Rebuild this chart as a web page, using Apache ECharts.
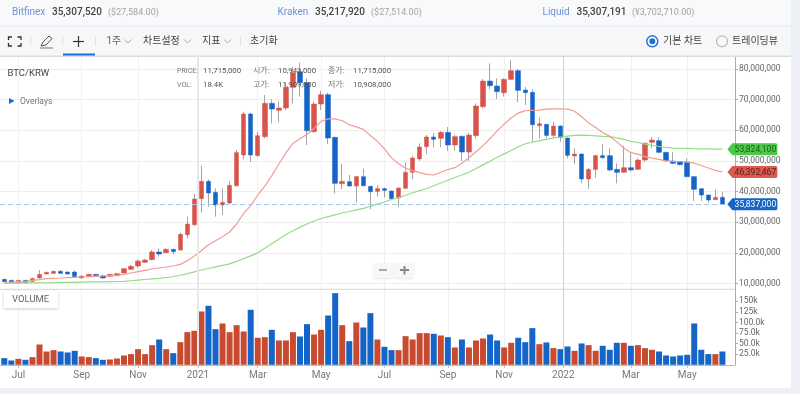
<!DOCTYPE html>
<html><head><meta charset="utf-8">
<style>html,body{margin:0;padding:0;background:#fff}#c{width:800px;height:394px}</style>
<script src="https://cdn.jsdelivr.net/npm/echarts@6/dist/echarts.min.js"></script>
</head><body><div id="c"></div>
<script>
// weekly candles, prices in millions of KRW
const opens=[11.36,11.03,10.27,11.03,10.71,11.79,13.10,13.32,13.97,13.75,13.75,11.79,12.34,12.99,12.45,12.34,12.56,13.43,14.62,15.71,16.91,17.78,20.28,20.06,21.15,20.93,25.93,29.20,37.68,43.33,39.74,35.61,36.26,41.92,51.92,65.30,51.70,57.91,68.78,66.50,67.26,74.00,79.11,75.52,59.54,68.57,71.61,57.69,42.57,43.22,41.81,44.86,41.70,40.07,40.94,40.18,37.90,41.05,46.27,50.62,54.65,57.80,57.36,59.32,55.19,58.02,52.90,58.24,67.69,76.06,74.43,72.26,76.61,79.44,73.13,72.37,61.49,61.93,58.34,61.38,57.47,51.60,52.25,44.10,47.25,51.71,51.71,47.25,46.27,47.79,47.25,50.30,56.06,56.60,52.80,49.97,49.75,49.53,44.86,40.94,38.88,37.35,38.11];
const closes=[10.60,10.38,11.03,10.38,11.58,12.99,13.64,13.97,13.32,13.10,12.23,12.45,12.99,12.56,11.79,12.99,13.21,14.84,15.60,17.34,17.67,20.28,19.62,21.15,20.39,26.04,29.41,37.57,43.33,39.53,35.61,36.48,42.03,52.69,65.30,51.92,58.23,68.78,66.93,67.26,74.00,78.78,75.52,59.86,68.57,71.61,57.47,42.68,43.33,41.81,44.86,41.92,39.96,40.94,40.40,37.68,41.16,46.27,50.95,54.54,57.80,57.04,59.32,55.19,57.91,52.90,58.45,67.91,76.06,74.54,72.59,76.61,79.44,73.02,72.26,61.82,62.14,58.34,61.38,57.69,51.82,52.25,44.10,47.25,51.71,51.06,47.03,46.27,47.79,47.03,50.30,55.73,56.82,52.80,50.08,49.21,48.77,44.86,40.72,38.88,37.25,38.11,35.83];
const lows=[10.38,10.16,10.10,10.20,10.50,11.69,12.90,13.10,13.10,12.95,12.10,11.60,12.20,12.40,11.60,12.20,12.40,13.30,14.40,15.06,16.70,17.56,18.75,19.90,19.52,20.71,24.74,28.76,33.11,35.07,31.80,32.35,35.94,41.59,50.51,49.75,51.40,57.36,62.26,62.58,66.61,68.78,70.95,55.19,59.21,66.61,55.52,39.42,40.72,41.59,36.48,41.70,34.20,38.33,38.11,37.25,35.07,41.00,44.09,49.97,52.25,54.43,54.43,53.23,53.34,49.97,49.97,57.36,67.15,73.35,70.19,70.96,76.40,69.11,68.24,56.06,57.36,57.36,57.36,56.27,50.84,48.99,42.68,40.83,44.53,50.73,46.49,42.68,46.16,46.49,47.03,49.75,54.10,52.47,49.75,48.88,48.55,44.64,36.92,36.92,36.37,37.25,35.61];
const highs=[11.58,11.25,11.20,11.20,12.00,14.40,13.86,14.20,14.40,13.95,14.30,12.60,13.20,13.10,12.90,13.10,13.40,15.00,16.04,17.88,18.10,20.93,21.47,21.47,21.26,26.59,31.80,39.20,48.45,43.98,41.05,41.05,43.44,53.56,66.06,65.70,59.54,71.50,70.09,69.33,75.53,80.74,82.05,76.94,69.33,72.91,72.26,57.90,49.00,45.40,45.00,47.47,41.90,42.14,41.27,40.30,41.30,49.53,51.71,55.73,58.45,58.99,59.75,61.06,58.45,58.30,59.21,68.78,76.72,81.83,76.94,76.94,82.92,79.98,74.22,73.35,64.21,62.04,62.80,61.60,57.60,54.10,52.40,47.60,52.00,55.40,54.10,49.20,54.86,52.47,50.84,56.06,57.90,57.69,53.00,52.80,50.00,50.84,45.00,41.10,39.00,40.72,39.96];
// volume in thousands
const volumes=[15.7,10.2,14.1,11.8,18.1,47.9,31.4,34.6,31.4,29.1,33,19.7,18.1,15.7,11.8,12.6,14.9,22,25.2,36.9,25.2,46.4,59.7,36.9,27.5,53.4,77,80.2,125.8,139.1,84.1,97.5,77,93.5,78.6,129.7,63.7,65.2,82.5,57.4,57.4,77,66.8,95.9,71.5,82.5,116.3,169,93.5,55.8,99.8,88,121.8,59.7,42.4,34.6,34.6,67.6,59.7,74.7,74.7,73.1,69.2,65.2,40.9,59.7,40.9,57.4,62.1,71.5,57.4,40.9,51.9,63.7,53.4,86.5,48.7,52.7,39.3,36.9,43.2,33,50.3,46.4,33,44.8,35.4,51.9,51.9,44.8,46.4,39.3,35.4,31.4,22,19.7,22,23.6,97.5,35.4,25.2,25.2,31.4];
// moving averages
const maRed=[10.38,10.49,10.6,10.71,11.03,11.25,11.58,11.69,11.79,11.9,12.01,12.12,12.23,12.34,12.45,12.56,12.66,12.99,13.43,13.86,14.3,14.73,15.06,15.38,15.71,16.25,17.45,18.97,20.71,22.67,23.97,25.28,26.8,29.41,32.89,35.39,38.8,41.8,45.2,49,52.6,55.7,57.2,58.7,60.6,62.9,63.7,63.7,63.1,61.8,61.1,60.3,58.3,56.4,53.9,51,49.1,47.6,46.9,46.2,45.6,45.4,46.3,47.2,47.8,49.2,51,53,55,57.3,59.8,62,64,65.6,66.4,66.5,66.6,66.9,67,67,66.9,66.2,64.4,62.4,60.9,59.3,58,56.2,54.2,52.7,52.2,51.4,50.9,50.5,50,49.8,49.8,49.7,49.3,48.5,47.7,46.9,46.39];
const maGreen=[10.05,10.1,10.1,10.15,10.2,10.2,10.25,10.3,10.35,10.4,10.4,10.45,10.5,10.55,10.55,10.6,10.65,10.7,10.9,11.1,11.3,11.5,11.7,11.95,12.2,12.7,13.2,13.8,14.4,14.9,15.4,15.9,16.4,17.2,18.1,19,20,21.5,23,24.5,26,27.2,28.4,29.4,30.4,31.2,31.8,32.4,33,33.5,34,34.5,35.2,35.9,36.6,37.4,38,38.8,39.6,40.3,41,41.9,42.8,43.7,44.6,45.4,46.3,47.5,48.7,49.9,51.2,52.3,53.4,54.6,55.6,56.1,56.6,57,57.5,57.8,58.1,58.3,58.4,58.3,58.2,58,57.9,57.5,57,56.4,56,55.5,55.1,54.7,54.4,54.2,54.1,54.1,54,53.95,53.9,53.85,53.82];
// axes: month ticks by week position
const monthTicks=[2,11,19,27.5,36,45,54,63,71,79.4,89,97];
const monthLabels=['Jul','Sep','Nov','2021','Mar','May','Jul','Sep','Nov','2022','Mar','May'];
const yearTicks=[27.5,79.4];
const priceTicks=[10,20,30,40,50,60,70,80];
const volTicks=[25,50,75,100,125,150];
const volLabels=['25.0k','50.0k','75.0k','100.0k','125k','150k'];
const lastPrice=35.837, lastGreen=53.8241, lastRed=46.392467;

const RED='#d9534a',BLUE='#1565c8',BARRED='#c84b31';
const FONT="Roboto,'Noto Sans CJK KR',sans-serif";
const fmtPrice=v=>Math.round(v*1e6).toLocaleString('en-US');
const idx=opens.map((_,i)=>i);
const body=idx.map(i=>[i,opens[i],closes[i],Math.min(opens[i],closes[i]),Math.max(opens[i],closes[i])]);
const wick=idx.map(i=>[i,opens[i],closes[i],lows[i],highs[i]]);
const volData=idx.map(i=>({value:[i,volumes[i]],itemStyle:{color:closes[i]>=opens[i]?BARRED:BLUE}}));
const last=idx.length-1;

function T(x,y,text,o={}){return {type:'text',x,y,silent:true,z:o.z||5,style:{text,fill:o.c||'#555',font:(o.w||'normal')+' '+(o.s||9)+'px '+FONT,textVerticalAlign:'middle',textBaseline:'middle',opacity:o.o==null?1:o.o}};}
function R(x,y,w,h,c,o={}){return {type:'rect',silent:true,z:o.z||1,shape:{x,y,width:w,height:h,r:o.r||0},style:{fill:c,shadowBlur:o.sb||0,shadowColor:o.sc||'transparent',shadowOffsetY:o.sy||0}};}
function L(pts,c,w=1,z=6){return {type:'polyline',silent:true,z,shape:{points:pts},style:{stroke:c,lineWidth:w,fill:null}};}
function chev(x){return L([[x,39.5],[x+3.5,43],[x+7,39.5]],'#aaa',1);}
const gr=[
 R(0,0,800,25,'#f8f9fb'),R(0,25,800,2,'#eff1f4'),R(0,27,800,29,'#f6f7f9'),R(0,55.5,791,1.5,'#dcdcdc',{z:2}),
 R(791,0,9,394,'#eceff3',{z:3}),R(0,388,800,6,'#eceff3',{z:3}),
 T(12,12.5,'Bitfinex',{c:'#6f93d2',s:10}),T(52,12.5,'35,307,520',{c:'#444',s:10,w:'500'}),T(108,12.5,'($27,584.00)',{c:'#a3a3a3',s:9}),
 T(277.5,12.5,'Kraken',{c:'#6f93d2',s:10}),T(315,12.5,'35,217,920',{c:'#444',s:10,w:'500'}),T(371,12.5,'($27,514.00)',{c:'#a3a3a3',s:9}),
 T(542.5,12.5,'Liquid',{c:'#6f93d2',s:10}),T(576.5,12.5,'35,307,191',{c:'#444',s:10,w:'500'}),T(632,12.5,'(¥3,702,710.00)',{c:'#a3a3a3',s:9}),
 // toolbar icons
 L([[8.5,40],[8.5,37],[12,37]],'#333',1.3),L([[17.5,37],[21,37],[21,40]],'#333',1.3),L([[21,43],[21,46],[17.5,46]],'#333',1.3),L([[12,46],[8.5,46],[8.5,43]],'#333',1.3),
 L([[31,36],[31,46]],'#e2e2e2',1),L([[41,46],[43,42],[49,36],[52,38.5],[46,45],[41,46]],'#555',1),L([[40,48],[53,48]],'#777',1),
 L([[63,36],[63,46]],'#e2e2e2',1),L([[73,41.5],[84,41.5]],'#333',1.2),L([[78.5,36],[78.5,47]],'#333',1.2),R(63,53.5,32,2,'#1a6fd8',{z:3}),
 L([[95.5,36],[95.5,46]],'#e2e2e2',1),
 T(106.5,41,'1주',{c:'#666',s:10}),chev(124.5),T(143,41,'차트설정',{c:'#444',s:10}),chev(184),T(202,41,'지표',{c:'#444',s:10}),chev(224),L([[240.5,36],[240.5,46]],'#e2e2e2',1),T(250,41,'초기화',{c:'#444',s:10}),
 {type:'circle',silent:true,z:5,shape:{cx:652.3,cy:41.3,r:5.5},style:{fill:'#fff',stroke:'#1a6fd8',lineWidth:1.4}},
 {type:'circle',silent:true,z:6,shape:{cx:652.3,cy:41.3,r:3},style:{fill:'#1a6fd8'}},
 T(663,41,'기본 차트',{c:'#444',s:10}),
 {type:'circle',silent:true,z:5,shape:{cx:722,cy:41.3,r:5.5},style:{fill:'#f6f7f9',stroke:'#bbb',lineWidth:1.2}},
 T(732,41,'트레이딩뷰',{c:'#444',s:10}),
 // pane captions
 T(7.5,73.5,'BTC/KRW',{c:'#444',s:9.5}),
 {type:'polygon',silent:true,z:5,shape:{points:[[9,98],[14.5,101],[9,104]]},style:{fill:'#1a6fd8'}},
 T(20,101.5,'Overlays',{c:'#777',s:8.5}),
 // read-out over the chart
 T(177,71,'PRICE:',{c:'#777',s:7,z:20}),T(203,71,'11,715,000',{c:'#555',s:7.8,z:20}),T(253,71,'시가:',{c:'#777',s:8,z:20}),T(278,71,'10,943,000',{c:'#555',s:7.8,z:20}),T(328,71,'종가:',{c:'#777',s:8,z:20}),T(353,71,'11,715,000',{c:'#555',s:7.8,z:20}),
 T(177,85,'VOL:',{c:'#777',s:7,z:20}),T(203,85,'18.4K',{c:'#555',s:7.8,z:20}),T(253,85,'고가:',{c:'#777',s:8,z:20}),T(278,85,'11,909,000',{c:'#555',s:7.8,z:20}),T(328,85,'저가:',{c:'#777',s:8,z:20}),T(353,85,'10,908,000',{c:'#555',s:7.8,z:20}),
 // zoom buttons
 R(373,263,21,15,'#f7f7f7',{z:21,r:2,sb:2,sc:'rgba(0,0,0,.1)',sy:1}),R(395,263,19,15,'#f7f7f7',{z:21,r:2,sb:2,sc:'rgba(0,0,0,.1)',sy:1}),
 L([[379,270],[387,270]],'#aaa',2,22),L([[400,270],[409,270]],'#888',2,22),L([[404.5,266],[404.5,274.5]],'#888',2,22),
 // volume caption
 R(4,291,54,17,'#fff',{z:21,sb:3,sc:'rgba(0,0,0,.2)',sy:1}),T(12,299.5,'VOLUME',{c:'#666',s:9.5,z:22}),
 // pane separator
 R(0,288.8,735,1.2,'#dedede',{z:2})
];
const axisText={color:'#666',fontSize:8.5,fontFamily:FONT,padding:[2,0,0,0]};
function xA(gi,show){return {type:'value',gridIndex:gi,min:-0.61,max:103.79,
  axisLine:{show:show,onZero:false,lineStyle:{color:'#bbb'}},
  axisTick:{show:show,length:3,customValues:monthTicks,lineStyle:{color:'#bbb'}},
  axisLabel:{show:show,customValues:monthTicks,color:'#777',fontSize:10,fontFamily:FONT,margin:6,hideOverlap:false,showMinLabel:true,showMaxLabel:true,formatter:v=>monthLabels[monthTicks.indexOf(v)]},
  splitLine:{show:true,lineStyle:{color:'#f1f1f1'}}};}
const yearLines={symbol:'none',silent:true,label:{show:false},animation:false,data:[
  {xAxis:yearTicks[0],lineStyle:{type:'solid',color:'#e8e8e8',width:2}},
  {xAxis:yearTicks[1],lineStyle:{type:'solid',color:'#cfcfcf',width:1}}]};
function tag(v,fill,txt){return {coord:[last,v],value:fmtPrice(v),symbol:'path://M0 6L6 0H58Q60 0 60 2V10Q60 12 58 12H6Z',symbolSize:[50,12],symbolOffset:[30,0],itemStyle:{color:fill},
  label:{show:true,position:'inside',color:txt,fontSize:8.5,fontFamily:FONT,formatter:fmtPrice(v),offset:[3,1]}};}
const option={
 animation:false,backgroundColor:'#fff',textStyle:{fontFamily:FONT},
 grid:[{left:0,top:56,width:735,height:233},{left:0,top:289,width:735,height:75.8}],
 xAxis:[xA(0,false),xA(1,true)],
 yAxis:[
  {type:'value',gridIndex:0,position:'right',min:8.206,max:84.23,axisLine:{show:true,onZero:false,lineStyle:{color:'#aaa'}},
   axisTick:{show:true,length:3,customValues:priceTicks,lineStyle:{color:'#aaa'}},
   axisLabel:{...axisText,customValues:priceTicks,margin:4,formatter:fmtPrice},
   splitLine:{show:true,lineStyle:{color:'#eeeeee'}}},
  {type:'value',gridIndex:1,position:'right',min:0,max:178.8,axisLine:{show:true,onZero:false,lineStyle:{color:'#aaa'}},
   axisTick:{show:true,length:3,customValues:volTicks,lineStyle:{color:'#aaa'}},
   axisLabel:{...axisText,customValues:volTicks,margin:4,formatter:v=>volLabels[volTicks.indexOf(v)]},
   splitLine:{show:false}}
 ],
 graphic:{elements:gr},
 series:[
  {type:'candlestick',name:'wick',xAxisIndex:0,yAxisIndex:0,data:wick,barWidth:1,encode:{x:0,y:[1,2,3,4]},
   itemStyle:{color:'#4a4a4a',color0:'#4a4a4a',borderColor:'#4a4a4a',borderColor0:'#4a4a4a',borderWidth:0.5},
   markLine:yearLines,z:2},
  {type:'candlestick',name:'BTC/KRW',xAxisIndex:0,yAxisIndex:0,data:body,barWidth:5,encode:{x:0,y:[1,2,3,4]},
   itemStyle:{color:RED,color0:BLUE,borderColor:RED,borderColor0:BLUE,borderWidth:0.5},z:3},
  {type:'line',name:'MA long',xAxisIndex:0,yAxisIndex:0,data:idx.map(i=>[i,maGreen[i]]),showSymbol:false,smooth:false,lineStyle:{color:'#93dd85',width:1.2},z:4,
   markPoint:{silent:true,z:30,data:[tag(lastGreen,'#4cc84a','#1d5a1c'),tag(lastRed,'#da5a50','#5a1c18')]}},
  {type:'line',name:'MA short',xAxisIndex:0,yAxisIndex:0,data:idx.map(i=>[i,maRed[i]]),showSymbol:false,smooth:false,lineStyle:{color:'#ee9d94',width:1.2},z:4,
   markLine:{symbol:'none',silent:true,label:{show:false},lineStyle:{type:[5,3],color:'#a4c8f2',width:1.2},data:[{yAxis:lastPrice}]},
   markPoint:{silent:true,z:30,data:[tag(lastPrice,BLUE,'#ffffff')]}},
  {type:'bar',name:'VOLUME',xAxisIndex:1,yAxisIndex:1,data:volData,barWidth:6,itemStyle:{borderWidth:0},markLine:yearLines,z:3}
 ]
};
echarts.init(document.getElementById('c'),null,{renderer:'canvas'}).setOption(option);
</script></body></html>
